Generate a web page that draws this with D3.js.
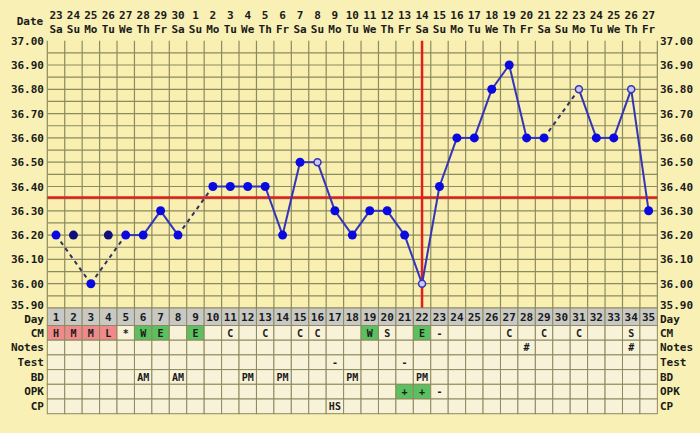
<!DOCTYPE html>
<html><head><meta charset="utf-8">
<script src="https://cdn.jsdelivr.net/npm/d3@7"></script>
<style>body{margin:0;background:#f8f0b4}text{font-family:"DejaVu Sans Mono",monospace;font-weight:bold;fill:#1a1a1a}</style>
</head><body><svg id="c" width="700" height="433"></svg>
<script>
var dates = [23,24,25,26,27,28,29,30,1,2,3,4,5,6,7,8,9,10,11,12,13,14,15,16,17,18,19,20,21,22,23,24,25,26,27];
var weekdays = ["Sa","Su","Mo","Tu","We","Th","Fr"];
var temps = [36.2,36.2,36.0,36.2,36.2,36.2,36.3,36.2,null,36.4,36.4,36.4,36.4,36.2,36.5,36.5,36.3,36.2,36.3,36.3,36.2,36.0,36.4,36.6,36.6,36.8,36.9,36.6,36.6,null,36.8,36.6,36.6,36.8,36.3];
var discarded = [2,4];
var openDays = [16,22,31,34];
var coverline = 36.355, ovDay = 22;
var yTicks = [37.0,36.9,36.8,36.7,36.6,36.5,36.4,36.3,36.2,36.1,36.0,35.9];
var rows = ["CM","Notes","Test","BD","OPK","CP"];
var cells = {
  CM: {1:"H",2:"M",3:"M",4:"L",5:"*",6:"W",7:"E",9:"E",11:"C",13:"C",15:"C",16:"C",19:"W",20:"S",22:"E",23:"-",27:"C",29:"C",31:"C",34:"S"},
  Notes: {28:"#",34:"#"},
  Test: {17:"-",21:"-"},
  BD: {6:"AM",8:"AM",12:"PM",14:"PM",18:"PM",22:"PM"},
  OPK: {21:"+",22:"+",23:"-"},
  CP: {17:"HS"}
};
var pink = {CM:[1,2,3,4]}, green = {CM:[6,7,9,19,22], OPK:[21,22]};

var svg = d3.select("#c");
var x0 = 47.3, cw = 17.43, n = dates.length;
var x = d3.scaleLinear().domain([0.5, n + 0.5]).range([x0, x0 + n * cw]);
var y = d3.scaleLinear().domain([35.9, 37.0]).range([308, 40.7]);
var X1 = x(0.5), X2 = x(n + 0.5);

svg.append("rect").attr("x", X1).attr("y", y(37)).attr("width", X2 - X1).attr("height", y(35.9) - y(37)).attr("fill", "#f8efb0");
// grid
d3.range(0, 22).forEach(function(i) {
  var v = 35.9 + i * 0.05;
  svg.append("line").attr("x1", X1).attr("x2", X2).attr("y1", y(v)).attr("y2", y(v)).attr("stroke", "#8c8a60").attr("stroke-width", 1.2);
});
d3.range(0, n + 1).forEach(function(i) {
  svg.append("line").attr("x1", x(i + 0.5)).attr("x2", x(i + 0.5)).attr("y1", y(37)).attr("y2", y(35.9)).attr("stroke", "#8c8a60").attr("stroke-width", 1.2);
});
// y labels
yTicks.forEach(function(t) {
  var dy = t === 35.9 ? 1 : 4;
  svg.append("text").attr("x", 44).attr("y", y(t) + dy).attr("text-anchor", "end").attr("font-size", 11).text(t.toFixed(2));
  svg.append("text").attr("x", 660).attr("y", y(t) + dy).attr("font-size", 11).text(t.toFixed(2));
});
// header
svg.append("text").attr("x", 30).attr("y", 25).attr("text-anchor", "middle").attr("font-size", 11).text("Date");
dates.forEach(function(d, i) {
  svg.append("text").attr("x", x(i + 1)).attr("y", 19).attr("text-anchor", "middle").attr("font-size", 11).text(d);
  svg.append("text").attr("x", x(i + 1)).attr("y", 33).attr("text-anchor", "middle").attr("font-size", 11).text(weekdays[i % 7]);
});
// coverline
svg.append("line").attr("x1", X1).attr("x2", X2).attr("y1", y(coverline)).attr("y2", y(coverline)).attr("stroke", "#e02020").attr("stroke-width", 2.5);
svg.append("line").attr("x1", x(ovDay)).attr("x2", x(ovDay)).attr("y1", y(37)).attr("y2", y(35.9)).attr("stroke", "#e02020").attr("stroke-width", 2.5);

// line: solid between consecutive used days, dashed across gaps
var used = [];
temps.forEach(function(t, i) { if (t != null && discarded.indexOf(i + 1) < 0) used.push({d: i + 1, t: t}); });
for (var k = 1; k < used.length; k++) {
  var a = used[k - 1], b = used[k];
  var dashed = b.d - a.d > 1;
  svg.append("line").attr("x1", x(a.d)).attr("y1", y(a.t)).attr("x2", x(b.d)).attr("y2", y(b.t))
    .attr("stroke", dashed ? "#333366" : "#3434b8").attr("stroke-width", 2)
    .attr("stroke-dasharray", dashed ? "4,4" : null);
}
temps.forEach(function(t, i) {
  if (t == null) return;
  var d = i + 1;
  var open = openDays.indexOf(d) >= 0, disc = discarded.indexOf(d) >= 0;
  svg.append("circle").attr("cx", x(d)).attr("cy", y(t)).attr("r", open ? 3.5 : 4.5)
    .attr("fill", open ? "#c8c8f0" : (disc ? "#10107a" : "#0a0ae0"))
    .attr("stroke", open ? "#3434b8" : "none").attr("stroke-width", 1.5);
});

// table
var ty = 308, dh = 17.5, rh = 14.7;
svg.append("text").attr("x", 44).attr("y", ty + 15).attr("text-anchor", "end").attr("font-size", 11).text("Day");
svg.append("text").attr("x", 660).attr("y", ty + 15).attr("font-size", 11).text("Day");
for (var d = 1; d <= n; d++) {
  svg.append("rect").attr("x", x(d - 0.5)).attr("y", ty).attr("width", cw).attr("height", dh).attr("fill", "#c8c8c4").attr("stroke", "#8c8a60");
  svg.append("text").attr("x", x(d)).attr("y", ty + 13).attr("text-anchor", "middle").attr("font-size", 11).text(d);
}
rows.forEach(function(r, ri) {
  var ry = ty + dh + ri * rh;
  svg.append("text").attr("x", 44).attr("y", ry + 11).attr("text-anchor", "end").attr("font-size", 11).text(r);
  svg.append("text").attr("x", 660).attr("y", ry + 11).attr("font-size", 11).text(r);
  for (var d = 1; d <= n; d++) {
    var fill = "#f8f2d8";
    if (pink[r] && pink[r].indexOf(d) >= 0) fill = "#f08a8a";
    if (green[r] && green[r].indexOf(d) >= 0) fill = "#5cc060";
    svg.append("rect").attr("x", x(d - 0.5)).attr("y", ry).attr("width", cw).attr("height", rh).attr("fill", fill).attr("stroke", "#8c8a60");
    if (cells[r][d]) svg.append("text").attr("x", x(d)).attr("y", ry + 11).attr("text-anchor", "middle").attr("font-size", 10).text(cells[r][d]);
  }
});
</script></body></html>
